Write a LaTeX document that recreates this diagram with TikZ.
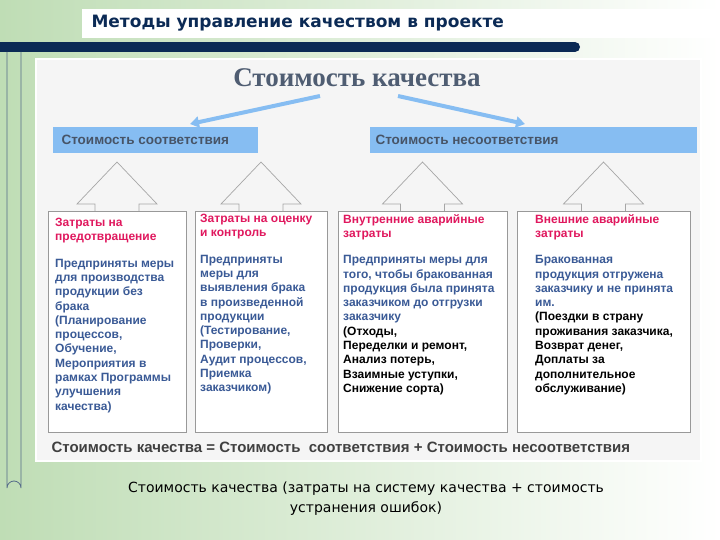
\documentclass[tikz,border=0pt]{standalone}
\usepackage{fontspec}
\usetikzlibrary{arrows.meta}
\setmainfont{Liberation Sans}
\newfontfamily\serifT{Liberation Serif}
\newfontfamily\wide{DejaVu Sans}
\definecolor{navy}{HTML}{0B2A55}
\definecolor{hd}{HTML}{E0185E}
\definecolor{bd}{HTML}{3A5A96}
\definecolor{lb}{HTML}{86BDF2}
\definecolor{gr}{HTML}{BFDDB5}
\definecolor{tt}{HTML}{4F5D72}
\begin{document}
\begin{tikzpicture}[x=1pt,y=-1pt,
  boxs/.style={draw=gray!80,line width=0.8pt,fill=white},
  roof/.style={draw=gray!70,line width=0.7pt},
  btxt/.style={anchor=north west,align=left,font=\fontsize{12}{14.3}\selectfont\bfseries,inner sep=0pt},
  arr/.style={draw=lb,line width=4pt,-{Triangle[length=9pt,width=11pt]}}]
\useasboundingbox (0,0) rectangle (720,540);
\shade[left color=gr,right color=white] (0,0) rectangle (720,540);
\fill[white] (82,9) rectangle (720,38);
\node[anchor=west,font=\wide\fontsize{17}{20}\selectfont\bfseries,text=navy] (title) at (88,23) {Методы управление качеством в проекте};
\fill[navy] (0,42) rectangle (575,52);
\fill[navy] (575,47) circle (5);
\draw[navy!70,line width=0.8pt] (7,52) -- (7,488) arc[start angle=180,end angle=360,radius=7] -- (21,52);
\fill[white] (35,58) rectangle (702,462);
\fill[gray!8] (37,60) rectangle (700,460);
\node[font=\serifT\fontsize{27}{30}\selectfont\bfseries,text=tt] (main) at (357,78) {Стоимость качества};
\node[fill=lb,minimum width=205pt,minimum height=26pt,anchor=north west,inner sep=0pt] (sc) at (53,127) {};
\node[anchor=west,font=\fontsize{13.5}{15}\selectfont\bfseries,text=tt!90!black] at (58,140) {Стоимость соответствия};
\node[fill=lb,minimum width=327pt,minimum height=26pt,anchor=north west,inner sep=0pt] (nc) at (370,127) {};
\node[anchor=west,font=\fontsize{13.5}{15}\selectfont\bfseries,text=tt!90!black] at (372,140) {Стоимость несоответствия};
\coordinate (a1) at (320,96); \coordinate (a2) at (398,96);
\draw[arr] (a1) -- (190,124);
\draw[arr] (a2) -- (525,124);
\foreach \l/\r in {48/186,195/327,338/507,517/690}{
  \pgfmathsetmacro\c{(\l+\r)/2}
  \draw[roof] (\c-22,211) -- (\c-22,204) -- (\c-40,204) -- (\c,162) -- (\c+40,204) -- (\c+22,204) -- (\c+22,211);
  \draw[boxs] (\l,211) rectangle (\r,432);
}
\node[btxt] (t1) at (55,218) {\textcolor{hd}{Затраты на}\\\textcolor{hd}{предотвращение}\\[12pt]
\textcolor{bd}{Предприняты меры}\\\textcolor{bd}{для производства}\\\textcolor{bd}{продукции без}\\\textcolor{bd}{брака}\\\textcolor{bd}{(Планирование}\\\textcolor{bd}{процессов,}\\\textcolor{bd}{Обучение,}\\\textcolor{bd}{Мероприятия в}\\\textcolor{bd}{рамках Программы}\\\textcolor{bd}{улучшения}\\\textcolor{bd}{качества)}};
\node[btxt] (t2) at (200,214) {\textcolor{hd}{Затраты на оценку}\\\textcolor{hd}{и контроль}\\[12pt]
\textcolor{bd}{Предприняты}\\\textcolor{bd}{меры для}\\\textcolor{bd}{выявления брака}\\\textcolor{bd}{в произведенной}\\\textcolor{bd}{продукции}\\\textcolor{bd}{(Тестирование,}\\\textcolor{bd}{Проверки,}\\\textcolor{bd}{Аудит процессов,}\\\textcolor{bd}{Приемка}\\\textcolor{bd}{заказчиком)}};
\node[btxt] (t3) at (343,214) {\textcolor{hd}{Внутренние аварийные}\\\textcolor{hd}{затраты}\\[12pt]
\textcolor{bd}{Предприняты меры для}\\\textcolor{bd}{того, чтобы бракованная}\\\textcolor{bd}{продукция была принята}\\\textcolor{bd}{заказчиком до отгрузки}\\\textcolor{bd}{заказчику}\\(Отходы,\\Переделки и ремонт,\\Анализ потерь,\\Взаимные уступки,\\Снижение сорта)};
\node[btxt] (t4) at (535,214) {\textcolor{hd}{Внешние аварийные}\\\textcolor{hd}{затраты}\\[12pt]
\textcolor{bd}{Бракованная}\\\textcolor{bd}{продукция отгружена}\\\textcolor{bd}{заказчику и не принята}\\\textcolor{bd}{им.}\\(Поездки в страну\\проживания заказчика,\\Возврат денег,\\Доплаты за\\дополнительное\\обслуживание)};
\node[anchor=west,font=\fontsize{15}{17}\selectfont\bfseries,text=black!75] (eq) at (48,447) {Стоимость качества = Стоимость\ \ соответствия + Стоимость несоответствия};
\node[align=center,font=\wide\fontsize{14}{20}\selectfont] (cap) at (366,499) {Стоимость качества (затраты на систему качества + стоимость\\устранения ошибок)};
\end{tikzpicture}
\end{document}
